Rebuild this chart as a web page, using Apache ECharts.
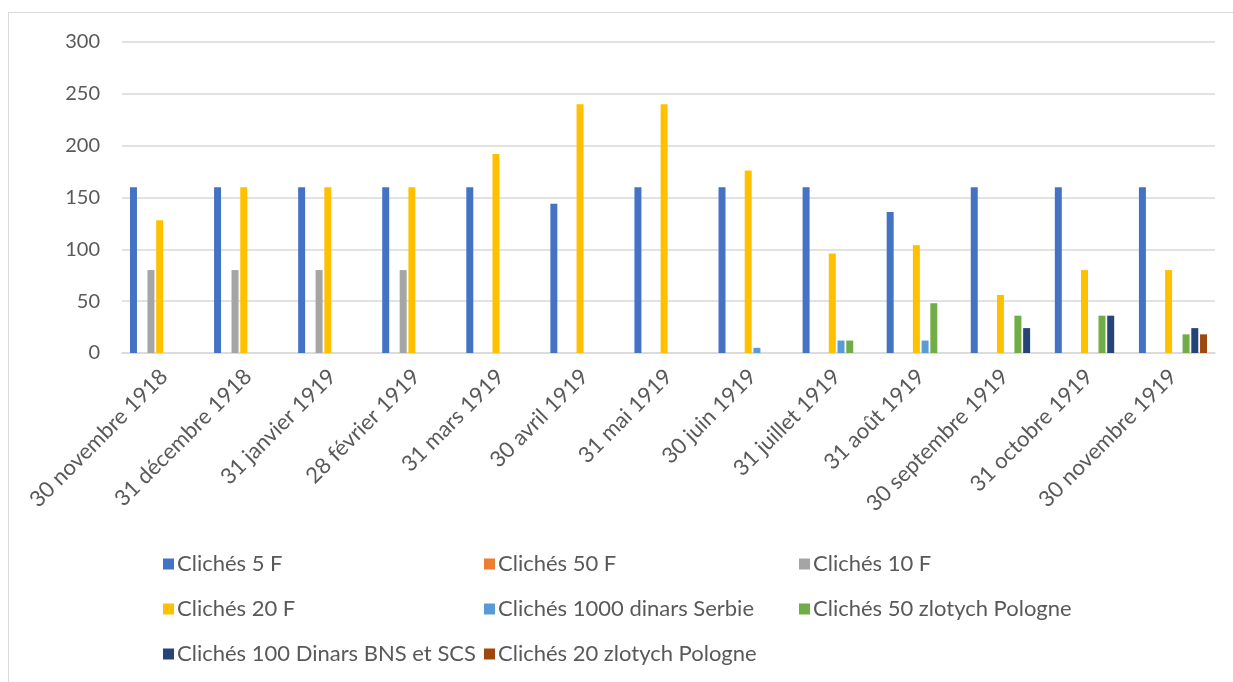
<!DOCTYPE html>
<html>
<head>
<meta charset="utf-8">
<script src="https://cdn.jsdelivr.net/npm/echarts@6/dist/echarts.min.js"></script>
<style>
  html, body { margin: 0; padding: 0; background: #fff; overflow: hidden; }
  #frame { position: absolute; left: 8px; top: 12px; width: 1240px; height: 690px; border: 1px solid #d9d9d9; }
  #chart { position: absolute; left: 0; top: 0; width: 1233px; height: 682px; }
</style>
</head>
<body>
<div id="frame"></div>
<div id="chart"></div>
<script>
var categories = ['30 novembre 1918', '31 décembre 1918', '31 janvier 1919', '28 février 1919',
    '31 mars 1919', '30 avril 1919', '31 mai 1919', '30 juin 1919', '31 juillet 1919',
    '31 août 1919', '30 septembre 1919', '31 octobre 1919', '30 novembre 1919'];

var cliches5F = [160, 160, 160, 160, 160, 144, 160, 160, 160, 136, 160, 160, 160];
var cliches50F = [null, null, null, null, null, null, null, null, null, null, null, null, null];
var cliches10F = [80, 80, 80, 80, null, null, null, null, null, null, null, null, null];
var cliches20F = [128, 160, 160, 160, 192, 240, 240, 176, 96, 104, 56, 80, 80];
var dinars1000 = [null, null, null, null, null, null, null, 5, 12, 12, null, null, null];
var zlotych50 = [null, null, null, null, null, null, null, null, 12, 48, 36, 36, 18];
var dinars100 = [null, null, null, null, null, null, null, null, null, null, 24, 36, 24];
var zlotych20 = [null, null, null, null, null, null, null, null, null, null, null, null, 18];

var yTicks = [0, 50, 100, 150, 200, 250, 300];

var seriesList = [
    { name: 'Clichés 5 F', data: cliches5F, color: '#4472c4' },
    { name: 'Clichés 50 F', data: cliches50F, color: '#ed7d31' },
    { name: 'Clichés 10 F', data: cliches10F, color: '#a5a5a5' },
    { name: 'Clichés 20 F', data: cliches20F, color: '#ffc000' },
    { name: 'Clichés 1000 dinars Serbie', data: dinars1000, color: '#5b9bd5' },
    { name: 'Clichés 50 zlotych Pologne', data: zlotych50, color: '#70ad47' },
    { name: 'Clichés 100 Dinars BNS et SCS', data: dinars100, color: '#264478' },
    { name: 'Clichés 20 zlotych Pologne', data: zlotych20, color: '#9e480e' }
];

var chart = echarts.init(document.getElementById('chart'));
var font = 'Lato, "Open Sans", sans-serif';

function legendCol(left, names) {
    return {
        orient: 'vertical',
        left: left,
        top: 548,
        itemGap: 23,
        itemWidth: 11,
        itemHeight: 11,
        icon: 'rect',
        selectedMode: false,
        textStyle: { color: '#595959', fontSize: 22, fontFamily: font, padding: [0, 0, 0, -2] },
        data: names
    };
}

var option = {
    animation: false,
    grid: { left: 122, right: 18, top: 42, height: 311, containLabel: false },
    legend: [
        legendCol(158, [seriesList[0].name, seriesList[3].name, seriesList[6].name]),
        legendCol(479, [seriesList[1].name, seriesList[4].name, seriesList[7].name]),
        legendCol(794, [seriesList[2].name, seriesList[5].name])
    ],
    xAxis: {
        type: 'category',
        data: categories,
        axisLine: { lineStyle: { color: '#d9d9d9', width: 1.5 } },
        axisTick: { show: false },
        axisLabel: { rotate: 45, color: '#595959', fontSize: 22, fontFamily: font, margin: 20, interval: 0 }
    },
    yAxis: {
        type: 'value',
        min: yTicks[0],
        max: yTicks[yTicks.length - 1],
        interval: 50,
        axisLine: { show: false },
        axisTick: { show: false },
        axisLabel: { color: '#595959', fontSize: 20, fontFamily: font, margin: 22 },
        splitLine: { lineStyle: { color: '#d9d9d9', width: 1.5 } }
    },
    series: seriesList.map(function (s) {
        return {
            name: s.name,
            type: 'bar',
            data: s.data,
            barCategoryGap: '19%',
            barGap: '25%',
            itemStyle: { color: s.color }
        };
    })
};

chart.setOption(option);
</script>
</body>
</html>
